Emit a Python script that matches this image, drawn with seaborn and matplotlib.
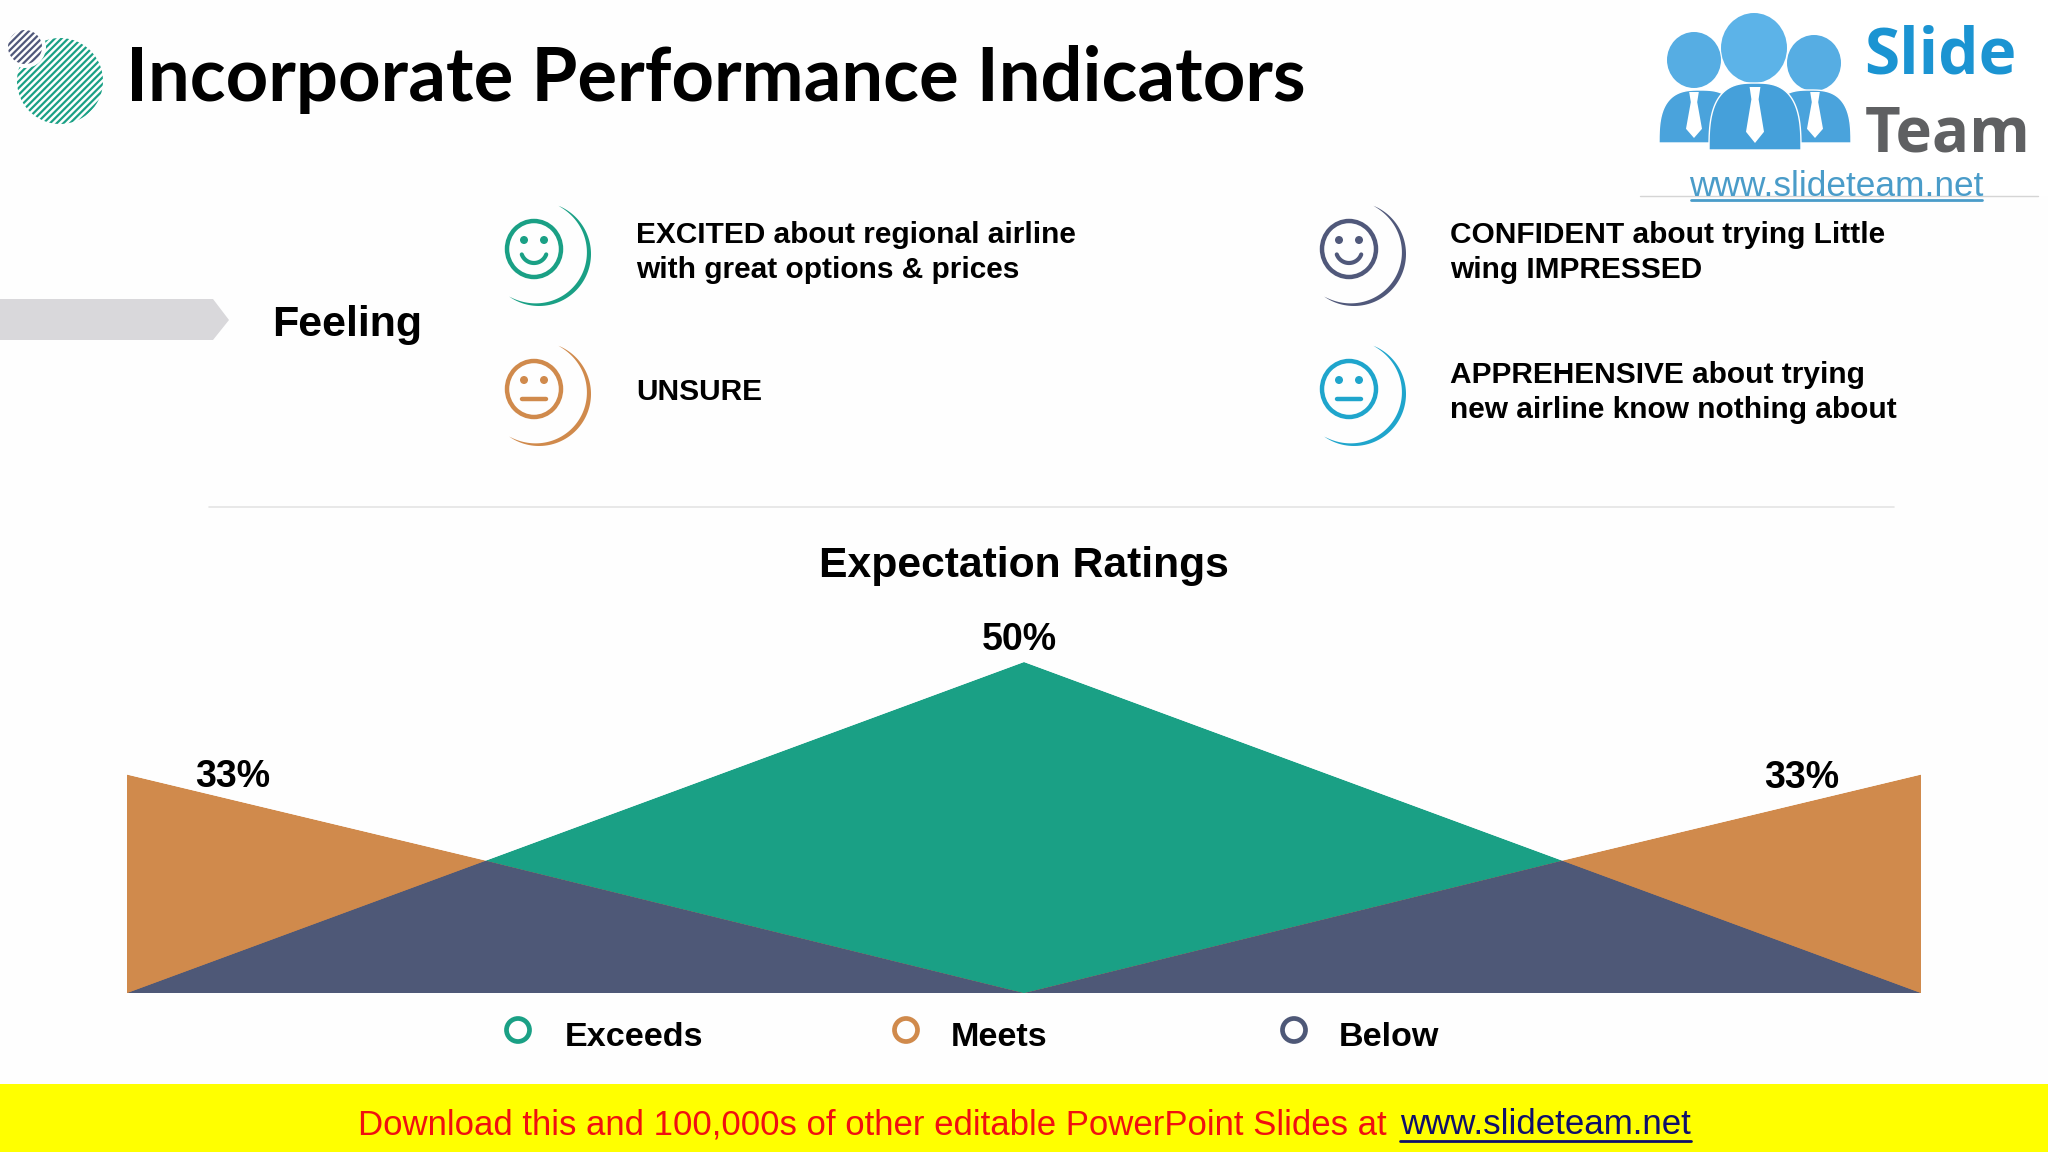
import numpy as np
import pandas as pd
import matplotlib.pyplot as plt
import seaborn as sns
import seaborn.objects as so
from matplotlib.patches import Circle, Ellipse, Polygon, Rectangle

# chart data (x is in category steps, 0.4 / 1.6 are the crossings)
x_pos = [0, 0.4, 1, 1.6, 2]
exceeds = [0, 20, 50, 20, 0]
meets = [33, 20, 0, 20, 33]
below = [0, 20, 0, 20, 0]

series_names = ["Exceeds", "Meets", "Below"]
series_colors = ["#1aa085", "#d08a4c", "#4e5877"]
value_labels = ["33%", "50%", "33%"]
value_x = [0, 1, 2]
value_y = [33, 50, 33]

feelings = [
    "EXCITED about regional airline\nwith great options & prices",
    "CONFIDENT about trying Little\nwing IMPRESSED",
    "UNSURE",
    "APPREHENSIVE about trying\nnew airline know nothing about",
]
feeling_colors = ["#1aa085", "#50587a", "#d08a4c", "#1fa5cc"]

sns.set_theme(style="white")
plt.rcParams["font.family"] = ["Liberation Sans", "DejaVu Sans"]
plt.rcParams["hatch.linewidth"] = 1.6

fig = plt.figure(figsize=(20.48, 11.52), dpi=100, facecolor="#fefefe")

# overlay in pixel coordinates for the slide furniture
bg = fig.add_axes([0, 0, 1, 1])
bg.set_xlim(0, 2048)
bg.set_ylim(1152, 0)
bg.axis("off")

# -------- chart
ax = fig.add_axes([127 / 2048, (1152 - 993) / 1152, 1794 / 2048, 331 / 1152])
df = pd.DataFrame({"pos": x_pos, "Exceeds": exceeds, "Meets": meets, "Below": below})
p = so.Plot(df, x="pos").limit(x=(0, 2), y=(0, 50))
for name, col in zip(series_names, series_colors):
    p = p.add(so.Area(color=col, alpha=1, edgewidth=0), y=name)
p.on(ax).plot()
ax.patch.set_alpha(0)
ax.axis("off")
label_offsets = [(76, -1.5), (-3.5, 15.5), (-86, -2.5)]
for lab, vx, vy, off in zip(value_labels, value_x, value_y, label_offsets):
    ax.annotate(lab, (vx, vy), xytext=off, textcoords="offset points", ha="center", va="center",
                fontsize=27, fontweight="bold", color="black", annotation_clip=False)

# -------- header
bg.add_patch(Circle((60, 81), 43, fill=False, hatch="/////", edgecolor="#1aa085", linewidth=0))
bg.add_patch(Circle((25, 47), 21, facecolor="#fefefe", linewidth=0))
bg.add_patch(Circle((25, 47), 17, fill=False, hatch="/////", edgecolor="#50587a", linewidth=0))
bg.text(126, 80, "Incorporate Performance Indicators", fontsize=53.5, fontweight="bold",
        family=["Lato", "DejaVu Sans"], color="black", va="center")

# -------- SlideTeam logo
bg.add_patch(Rectangle((1640, 0), 408, 196, facecolor="white", edgecolor="none"))
bg.plot([1640, 2038], [196, 196], color="#d5d5d5", lw=1)
blue = "#4aa3dc"


def body(cx, half, top, bottom, col):
    # squared-off half ellipse for the shoulders
    t = np.linspace(np.pi, 0, 60)
    xs = cx + half * np.sign(np.cos(t)) * np.abs(np.cos(t)) ** 0.7
    ys = bottom - (bottom - top) * np.sin(t) ** 0.7
    bg.add_patch(Polygon(np.column_stack([xs, ys]), closed=True, facecolor=col, edgecolor="white", lw=1))


def tie(cx, top, w, h):
    bg.add_patch(Polygon([(cx - w * 0.6, top), (cx + w * 0.6, top), (cx + w * 0.4, top + h * 0.22),
                          (cx + w, top + h * 0.8), (cx, top + h), (cx - w, top + h * 0.8),
                          (cx - w * 0.4, top + h * 0.22)],
                         closed=True, facecolor="white", edgecolor="none"))


bg.add_patch(Ellipse((1694, 60), 54, 56, facecolor="#56ade3", edgecolor="none"))
bg.add_patch(Ellipse((1814, 63), 54, 56, facecolor="#56ade3", edgecolor="none"))
bg.add_patch(Ellipse((1754, 48), 66, 70, facecolor="#5cb3e8", edgecolor="none"))
body(1700, 41, 90, 143, blue)
body(1810, 41, 90, 143, blue)
body(1755, 46, 83, 150, "#45a0da")
tie(1694, 92, 8, 46)
tie(1755, 87, 9, 56)
tie(1815, 92, 8, 46)
bg.text(1864, 57, "Slide", fontsize=46, fontweight="bold", color="#1b94d2", va="center", family=["Open Sans", "DejaVu Sans"])
bg.text(1865, 135, "Team", fontsize=44.5, fontweight="bold", color="#5f6062", va="center", family=["Open Sans", "DejaVu Sans"])
bg.text(1836, 186, "www.slideteam.net", fontsize=25.4, color="#4a9cc9", va="center", ha="center")
bg.plot([1691, 1982], [200, 200], color="#4a9cc9", lw=2)

# -------- Feeling row
bg.add_patch(Polygon([(0, 299), (213, 299), (229, 320), (213, 340), (0, 340)], closed=True,
                     facecolor="#d9d8db", edgecolor="none"))
bg.text(272, 325, "Feeling", fontsize=31, fontweight="bold", color="black", va="center")


def smiley(cx, cy, col, happy):
    bg.add_patch(Ellipse((cx, cy), 54, 56, fill=False, edgecolor=col, linewidth=3.2))
    bg.add_patch(Circle((cx - 10, cy - 9), 4, facecolor=col, edgecolor="none"))
    bg.add_patch(Circle((cx + 10, cy - 9), 4, facecolor=col, edgecolor="none"))
    if happy:
        t = np.linspace(np.radians(20), np.radians(160), 30)
        bg.plot(cx + 13 * np.cos(t), cy + 1 + 13 * np.sin(t), color=col, lw=3, solid_capstyle="round")
    else:
        bg.plot([cx - 12, cx + 12], [cy + 10, cy + 10], color=col, lw=3.2, solid_capstyle="round")
    # crescent round the face, thin at the ends
    t = np.linspace(np.radians(-68), np.radians(125), 80)
    thick = 4.5 * np.sin(np.linspace(0, np.pi, 80)) ** 0.8
    ox = cx + 5 + 52 * np.cos(t)
    oy = cy + 5 + 52 * np.sin(t)
    ix = cx + 5 + (52 - thick) * np.cos(t)
    iy = cy + 5 + (52 - thick) * np.sin(t)
    bg.add_patch(Polygon(np.column_stack([np.r_[ox, ix[::-1]], np.r_[oy, iy[::-1]]]), closed=True,
                         facecolor=col, edgecolor="none"))


smiley_x = [534, 1349, 534, 1349]
smiley_y = [249, 249, 389, 389]
smiley_happy = [True, True, False, False]
text_x = [636, 1450, 636, 1450]
for txt, col, sx, sy, hap, tx in zip(feelings, feeling_colors, smiley_x, smiley_y, smiley_happy, text_x):
    smiley(sx, sy, col, hap)
    bg.text(tx, sy + 3.5, txt, fontsize=21.5, fontweight="bold", color="black", va="center", linespacing=1.32)

bg.plot([209, 1894], [507, 507], color="#e4e4e4", lw=1.2)

# -------- chart title and legend
bg.text(1024, 566, "Expectation Ratings", fontsize=30.7, fontweight="bold", color="black", ha="center", va="center")
legend_ring_x = [518, 906, 1294]
legend_text_x = [565, 951, 1339]
for name, col, rx, tx in zip(series_names, series_colors, legend_ring_x, legend_text_x):
    bg.add_patch(Circle((rx, 1030), 11.5, fill=False, edgecolor=col, linewidth=3.4))
    bg.text(tx, 1037, name, fontsize=24.6, fontweight="bold", color="black", va="center")

# -------- download strip
bg.add_patch(Rectangle((0, 1084), 2048, 68, facecolor="#ffff00", edgecolor="none"))
bg.text(358, 1125, "Download this and 100,000s of other editable PowerPoint Slides at ", fontsize=25,
        color="#f01010", va="center")
bg.text(1400, 1125, "www.slideteam.net", fontsize=25.1, color="#10106a", va="center")
bg.plot([1400, 1691], [1141, 1141], color="#10106a", lw=2)

fig.savefig("out.png", dpi=100, facecolor=fig.get_facecolor())
